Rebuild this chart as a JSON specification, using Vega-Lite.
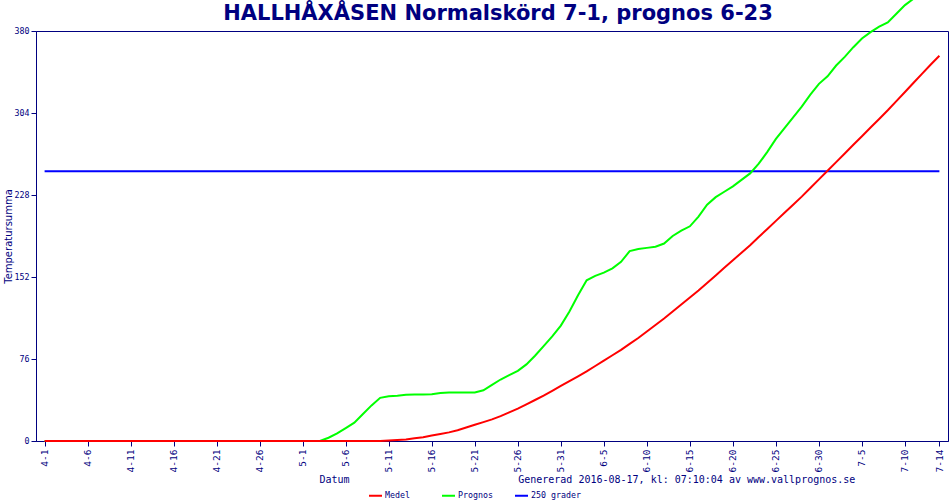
{
  "$schema": "https://vega.github.io/schema/vega-lite/v6.json",
  "width": 912,
  "height": 410,
  "autosize": {"type": "none"},
  "padding": {"left": 36, "top": 31, "right": 2, "bottom": 59},
  "background": "white",
  "title": {
    "text": "HALLHÅXÅSEN Normalskörd 7-1, prognos 6-23",
    "font": "DejaVu Sans",
    "fontSize": 21,
    "fontWeight": "bold",
    "color": "#000080",
    "anchor": "middle",
    "baseline": "alphabetic",
    "dx": 6,
    "dy": 69,
    "offset": 0
  },
  "data": {
    "values": [
      {"date": "2016-04-01", "series": "250 grader", "value": 250},
      {"date": "2016-07-14", "series": "250 grader", "value": 250},
      {"date": "2016-04-01", "series": "Prognos", "value": 0},
      {"date": "2016-05-03", "series": "Prognos", "value": 0},
      {"date": "2016-05-04", "series": "Prognos", "value": 3},
      {"date": "2016-05-05", "series": "Prognos", "value": 7},
      {"date": "2016-05-06", "series": "Prognos", "value": 12},
      {"date": "2016-05-07", "series": "Prognos", "value": 17},
      {"date": "2016-05-08", "series": "Prognos", "value": 25},
      {"date": "2016-05-09", "series": "Prognos", "value": 33},
      {"date": "2016-05-10", "series": "Prognos", "value": 40},
      {"date": "2016-05-11", "series": "Prognos", "value": 41.5},
      {"date": "2016-05-12", "series": "Prognos", "value": 42},
      {"date": "2016-05-13", "series": "Prognos", "value": 42.8},
      {"date": "2016-05-14", "series": "Prognos", "value": 43},
      {"date": "2016-05-15", "series": "Prognos", "value": 43},
      {"date": "2016-05-16", "series": "Prognos", "value": 43.3},
      {"date": "2016-05-17", "series": "Prognos", "value": 44.5},
      {"date": "2016-05-18", "series": "Prognos", "value": 45},
      {"date": "2016-05-19", "series": "Prognos", "value": 45},
      {"date": "2016-05-20", "series": "Prognos", "value": 45},
      {"date": "2016-05-21", "series": "Prognos", "value": 45},
      {"date": "2016-05-22", "series": "Prognos", "value": 47},
      {"date": "2016-05-23", "series": "Prognos", "value": 52},
      {"date": "2016-05-24", "series": "Prognos", "value": 57},
      {"date": "2016-05-25", "series": "Prognos", "value": 61},
      {"date": "2016-05-26", "series": "Prognos", "value": 65},
      {"date": "2016-05-27", "series": "Prognos", "value": 71},
      {"date": "2016-05-28", "series": "Prognos", "value": 79},
      {"date": "2016-05-29", "series": "Prognos", "value": 88},
      {"date": "2016-05-30", "series": "Prognos", "value": 97},
      {"date": "2016-05-31", "series": "Prognos", "value": 107},
      {"date": "2016-06-01", "series": "Prognos", "value": 120},
      {"date": "2016-06-02", "series": "Prognos", "value": 135},
      {"date": "2016-06-03", "series": "Prognos", "value": 149},
      {"date": "2016-06-04", "series": "Prognos", "value": 153},
      {"date": "2016-06-05", "series": "Prognos", "value": 156},
      {"date": "2016-06-06", "series": "Prognos", "value": 160},
      {"date": "2016-06-07", "series": "Prognos", "value": 166},
      {"date": "2016-06-08", "series": "Prognos", "value": 176},
      {"date": "2016-06-09", "series": "Prognos", "value": 178},
      {"date": "2016-06-10", "series": "Prognos", "value": 179},
      {"date": "2016-06-11", "series": "Prognos", "value": 180},
      {"date": "2016-06-12", "series": "Prognos", "value": 183},
      {"date": "2016-06-13", "series": "Prognos", "value": 190},
      {"date": "2016-06-14", "series": "Prognos", "value": 195},
      {"date": "2016-06-15", "series": "Prognos", "value": 199},
      {"date": "2016-06-16", "series": "Prognos", "value": 208},
      {"date": "2016-06-17", "series": "Prognos", "value": 219},
      {"date": "2016-06-18", "series": "Prognos", "value": 226},
      {"date": "2016-06-19", "series": "Prognos", "value": 231},
      {"date": "2016-06-20", "series": "Prognos", "value": 236},
      {"date": "2016-06-21", "series": "Prognos", "value": 242},
      {"date": "2016-06-22", "series": "Prognos", "value": 248},
      {"date": "2016-06-23", "series": "Prognos", "value": 257},
      {"date": "2016-06-24", "series": "Prognos", "value": 268},
      {"date": "2016-06-25", "series": "Prognos", "value": 280},
      {"date": "2016-06-26", "series": "Prognos", "value": 290},
      {"date": "2016-06-27", "series": "Prognos", "value": 300},
      {"date": "2016-06-28", "series": "Prognos", "value": 310},
      {"date": "2016-06-29", "series": "Prognos", "value": 321},
      {"date": "2016-06-30", "series": "Prognos", "value": 331},
      {"date": "2016-07-01", "series": "Prognos", "value": 338},
      {"date": "2016-07-02", "series": "Prognos", "value": 348},
      {"date": "2016-07-03", "series": "Prognos", "value": 356},
      {"date": "2016-07-04", "series": "Prognos", "value": 365},
      {"date": "2016-07-05", "series": "Prognos", "value": 373},
      {"date": "2016-07-06", "series": "Prognos", "value": 379},
      {"date": "2016-07-07", "series": "Prognos", "value": 384},
      {"date": "2016-07-08", "series": "Prognos", "value": 388},
      {"date": "2016-07-09", "series": "Prognos", "value": 396},
      {"date": "2016-07-10", "series": "Prognos", "value": 404},
      {"date": "2016-07-11", "series": "Prognos", "value": 410},
      {"date": "2016-07-12", "series": "Prognos", "value": 417},
      {"date": "2016-07-13", "series": "Prognos", "value": 424},
      {"date": "2016-07-14", "series": "Prognos", "value": 431},
      {"date": "2016-04-01", "series": "Medel", "value": 0},
      {"date": "2016-05-10", "series": "Medel", "value": 0},
      {"date": "2016-05-11", "series": "Medel", "value": 0.5},
      {"date": "2016-05-12", "series": "Medel", "value": 1},
      {"date": "2016-05-13", "series": "Medel", "value": 1.5},
      {"date": "2016-05-14", "series": "Medel", "value": 2.5},
      {"date": "2016-05-15", "series": "Medel", "value": 3.5},
      {"date": "2016-05-16", "series": "Medel", "value": 5},
      {"date": "2016-05-17", "series": "Medel", "value": 6.5},
      {"date": "2016-05-18", "series": "Medel", "value": 8},
      {"date": "2016-05-19", "series": "Medel", "value": 10},
      {"date": "2016-05-20", "series": "Medel", "value": 12.5},
      {"date": "2016-05-21", "series": "Medel", "value": 15},
      {"date": "2016-05-22", "series": "Medel", "value": 17.5},
      {"date": "2016-05-23", "series": "Medel", "value": 20},
      {"date": "2016-05-24", "series": "Medel", "value": 23},
      {"date": "2016-05-25", "series": "Medel", "value": 26.5},
      {"date": "2016-05-26", "series": "Medel", "value": 30},
      {"date": "2016-05-27", "series": "Medel", "value": 34},
      {"date": "2016-05-28", "series": "Medel", "value": 38},
      {"date": "2016-05-29", "series": "Medel", "value": 42},
      {"date": "2016-05-30", "series": "Medel", "value": 46.5},
      {"date": "2016-05-31", "series": "Medel", "value": 51},
      {"date": "2016-06-01", "series": "Medel", "value": 55.5},
      {"date": "2016-06-02", "series": "Medel", "value": 60},
      {"date": "2016-06-03", "series": "Medel", "value": 64.5},
      {"date": "2016-06-04", "series": "Medel", "value": 69.5},
      {"date": "2016-06-05", "series": "Medel", "value": 74.5},
      {"date": "2016-06-06", "series": "Medel", "value": 79.5},
      {"date": "2016-06-07", "series": "Medel", "value": 84.5},
      {"date": "2016-06-08", "series": "Medel", "value": 90},
      {"date": "2016-06-09", "series": "Medel", "value": 95.5},
      {"date": "2016-06-10", "series": "Medel", "value": 101.5},
      {"date": "2016-06-11", "series": "Medel", "value": 107.5},
      {"date": "2016-06-12", "series": "Medel", "value": 113.5},
      {"date": "2016-06-13", "series": "Medel", "value": 120},
      {"date": "2016-06-14", "series": "Medel", "value": 126.5},
      {"date": "2016-06-15", "series": "Medel", "value": 133},
      {"date": "2016-06-16", "series": "Medel", "value": 139.5},
      {"date": "2016-06-17", "series": "Medel", "value": 146.5},
      {"date": "2016-06-18", "series": "Medel", "value": 153.5},
      {"date": "2016-06-19", "series": "Medel", "value": 160.5},
      {"date": "2016-06-20", "series": "Medel", "value": 167.5},
      {"date": "2016-06-21", "series": "Medel", "value": 174.5},
      {"date": "2016-06-22", "series": "Medel", "value": 181.5},
      {"date": "2016-06-23", "series": "Medel", "value": 189},
      {"date": "2016-06-24", "series": "Medel", "value": 196.5},
      {"date": "2016-06-25", "series": "Medel", "value": 204},
      {"date": "2016-06-26", "series": "Medel", "value": 211.5},
      {"date": "2016-06-27", "series": "Medel", "value": 219},
      {"date": "2016-06-28", "series": "Medel", "value": 226.5},
      {"date": "2016-06-29", "series": "Medel", "value": 234.5},
      {"date": "2016-06-30", "series": "Medel", "value": 242.5},
      {"date": "2016-07-01", "series": "Medel", "value": 250.5},
      {"date": "2016-07-02", "series": "Medel", "value": 258.5},
      {"date": "2016-07-03", "series": "Medel", "value": 266.5},
      {"date": "2016-07-04", "series": "Medel", "value": 274.5},
      {"date": "2016-07-05", "series": "Medel", "value": 282.5},
      {"date": "2016-07-06", "series": "Medel", "value": 290.5},
      {"date": "2016-07-07", "series": "Medel", "value": 298.5},
      {"date": "2016-07-08", "series": "Medel", "value": 306.5},
      {"date": "2016-07-09", "series": "Medel", "value": 315},
      {"date": "2016-07-10", "series": "Medel", "value": 323.5},
      {"date": "2016-07-11", "series": "Medel", "value": 332},
      {"date": "2016-07-12", "series": "Medel", "value": 340.5},
      {"date": "2016-07-13", "series": "Medel", "value": 349},
      {"date": "2016-07-14", "series": "Medel", "value": 357}
    ]
  },
  "mark": {"type": "line", "clip": false},
  "encoding": {
    "x": {
      "field": "date",
      "type": "temporal",
      "scale": {
        "type": "utc",
        "domain": [
          {"year": 2016, "month": 3, "date": 31, "utc": true},
          {"year": 2016, "month": 7, "date": 15, "utc": true}
        ]
      },
      "axis": {
        "values": [
          {"year": 2016, "month": 4, "date": 1, "utc": true},
          {"year": 2016, "month": 4, "date": 6, "utc": true},
          {"year": 2016, "month": 4, "date": 11, "utc": true},
          {"year": 2016, "month": 4, "date": 16, "utc": true},
          {"year": 2016, "month": 4, "date": 21, "utc": true},
          {"year": 2016, "month": 4, "date": 26, "utc": true},
          {"year": 2016, "month": 5, "date": 1, "utc": true},
          {"year": 2016, "month": 5, "date": 6, "utc": true},
          {"year": 2016, "month": 5, "date": 11, "utc": true},
          {"year": 2016, "month": 5, "date": 16, "utc": true},
          {"year": 2016, "month": 5, "date": 21, "utc": true},
          {"year": 2016, "month": 5, "date": 26, "utc": true},
          {"year": 2016, "month": 5, "date": 31, "utc": true},
          {"year": 2016, "month": 6, "date": 5, "utc": true},
          {"year": 2016, "month": 6, "date": 10, "utc": true},
          {"year": 2016, "month": 6, "date": 15, "utc": true},
          {"year": 2016, "month": 6, "date": 20, "utc": true},
          {"year": 2016, "month": 6, "date": 25, "utc": true},
          {"year": 2016, "month": 6, "date": 30, "utc": true},
          {"year": 2016, "month": 7, "date": 5, "utc": true},
          {"year": 2016, "month": 7, "date": 10, "utc": true},
          {"year": 2016, "month": 7, "date": 14, "utc": true}
        ],
        "labelExpr": "utcFormat(datum.value, '%-m-%-d')",
        "labelAngle": 270,
        "labelAlign": "right",
        "labelBaseline": "middle",
        "labelFont": "DejaVu Sans Mono",
        "labelFontSize": 9.5,
        "labelPadding": 3,
        "labelOverlap": false,
        "labelBound": false,
        "labelFlush": false,
        "tickSize": 5,
        "grid": false,
        "title": "Datum\u00a0\u00a0\u00a0\u00a0\u00a0\u00a0\u00a0\u00a0\u00a0\u00a0\u00a0\u00a0\u00a0\u00a0\u00a0\u00a0\u00a0\u00a0\u00a0\u00a0\u00a0\u00a0\u00a0\u00a0\u00a0\u00a0\u00a0\u00a0Genererad 2016-08-17, kl: 07:10:04 av www.vallprognos.se",
        "titleFont": "DejaVu Sans Mono",
        "titleFontSize": 10,
        "titleFontWeight": "normal",
        "titleAlign": "left",
        "titleAnchor": "start",
        "titleBaseline": "alphabetic",
        "titleX": 283,
        "titleY": 41
      }
    },
    "y": {
      "field": "value",
      "type": "quantitative",
      "scale": {"domain": [0, 380], "nice": false, "zero": true},
      "axis": {
        "values": [0, 76, 152, 228, 304, 380],
        "labelFont": "DejaVu Sans Mono",
        "labelFontSize": 8.3,
        "labelPadding": 2,
        "tickSize": 5,
        "grid": false,
        "title": "Temperatursumma",
        "titleFont": "DejaVu Sans",
        "titleFontSize": 10,
        "titleFontWeight": "normal",
        "titleAngle": 270,
        "titleAlign": "center",
        "titleBaseline": "middle",
        "titleX": -28,
        "titleY": 205
      }
    },
    "color": {
      "field": "series",
      "type": "nominal",
      "sort": ["Medel", "Prognos", "250 grader"],
      "scale": {"domain": ["Medel", "Prognos", "250 grader"], "range": ["#ff0000", "#00ff00", "#0000ff"]},
      "legend": {
        "orient": "none",
        "legendX": 332,
        "legendY": 457,
        "direction": "horizontal",
        "columns": 3,
        "gridAlign": "all",
        "title": null,
        "symbolType": "stroke",
        "symbolSize": 169,
        "symbolStrokeWidth": 3,
        "labelFont": "DejaVu Sans Mono",
        "labelFontSize": 8.3,
        "labelColor": "#000080",
        "labelOffset": 2,
        "columnPadding": 3
      }
    },
    "strokeWidth": {
      "field": "series",
      "type": "nominal",
      "scale": {"domain": ["Medel", "Prognos", "250 grader"], "range": [2, 2, 3]},
      "legend": null
    }
  },
  "config": {
    "view": {"stroke": "#000080", "strokeWidth": 1},
    "axis": {
      "domainColor": "#000080",
      "tickColor": "#000080",
      "labelColor": "#000080",
      "titleColor": "#000080"
    }
  }
}
